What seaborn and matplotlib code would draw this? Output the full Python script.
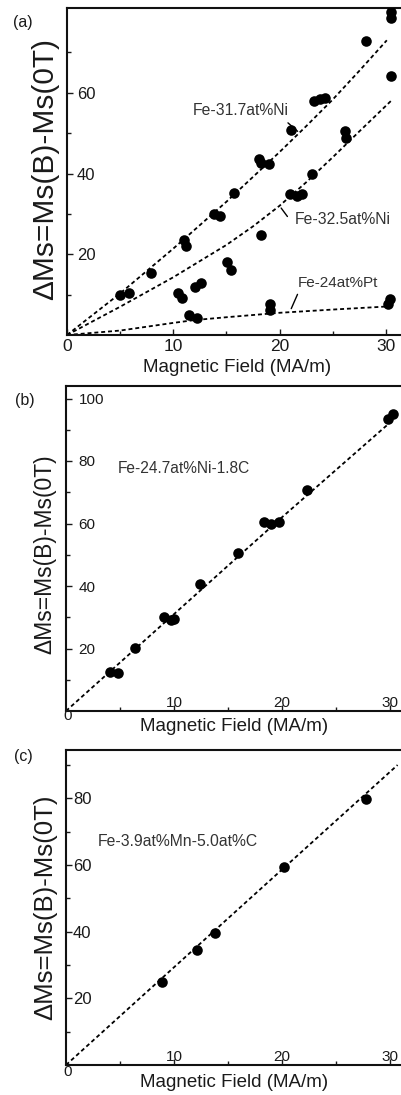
import matplotlib
matplotlib.use("Agg")
import matplotlib.pyplot as plt
import matplotlib.transforms as mtransforms
import seaborn as sns

# ---------------- data ----------------
# (a) Fe-31.7at%Ni
ni317_field = [5.0, 5.8, 7.9, 11.0, 11.2, 13.8, 14.4, 15.7, 18.1, 18.3, 19.0,
               21.1, 23.2, 23.8, 24.3, 28.1, 30.5, 30.5]
ni317_dms = [10.0, 10.3, 15.3, 23.5, 22.0, 30.0, 29.5, 35.1, 43.5, 42.5, 42.3,
             50.7, 58.0, 58.5, 58.8, 72.8, 78.5, 80.0]
fit317_field = [0, 5, 10, 15, 20, 22.5, 25, 27.5, 30.1]
fit317_dms = [0, 10.3, 21.4, 33.0, 45.3, 51.7, 58.3, 65.4, 73.0]

# (a) Fe-32.5at%Ni
ni325_field = [10.4, 10.8, 12.0, 12.6, 15.1, 15.4, 18.3, 21.0, 21.6, 22.1,
               23.1, 26.2, 26.3, 30.5]
ni325_dms = [10.5, 9.2, 12.0, 12.8, 18.0, 16.2, 24.8, 35.0, 34.5, 35.0,
             40.0, 50.5, 48.8, 64.1]
fit325_field = [0, 5, 10, 15, 17.5, 20, 22.5, 25, 27.5, 30.5]
fit325_dms = [0, 7.0, 14.3, 22.3, 26.9, 32.0, 37.8, 44.0, 50.4, 58.0]

# (a) Fe-24at%Pt
pt_field = [11.5, 12.2, 19.1, 19.1, 30.4, 30.2]
pt_dms = [5.0, 4.2, 7.8, 6.3, 8.8, 7.8]
fitpt_field = [0, 5, 10, 12, 15, 20, 25, 30.4]
fitpt_dms = [0, 1.1, 3.0, 3.7, 4.4, 5.5, 6.3, 7.1]

# (b) Fe-24.7at%Ni-1.8C
b_field = [4.1, 4.8, 6.4, 9.1, 9.7, 10.0, 12.4, 15.9, 18.3, 19.0, 19.7,
           22.3, 29.8, 30.3]
b_dms = [12.5, 12.3, 20.1, 30.2, 29.0, 29.4, 40.6, 50.5, 60.5, 60.0, 60.5,
         70.7, 93.5, 95.0]
fitb_field = [0, 10, 20, 29.9]
fitb_dms = [0, 31.0, 62.0, 92.0]

# (c) Fe-3.9at%Mn-5.0at%C
c_field = [8.9, 12.1, 13.8, 20.2, 27.8]
c_dms = [24.8, 34.6, 39.5, 59.3, 79.8]
fitc_field = [0, 30.7]
fitc_dms = [0, 90.0]

x_label = "Magnetic Field (MA/m)"
y_label = "ΔMs=Ms(B)-Ms(0T)"

# ---------------- style ----------------
sns.set_theme(style="ticks")
plt.rcParams["font.family"] = ["Liberation Sans", "DejaVu Sans"]
TXT = "#1a1a1a"
plt.rcParams["text.color"] = TXT
plt.rcParams["axes.labelcolor"] = TXT
plt.rcParams["xtick.color"] = TXT
plt.rcParams["ytick.color"] = TXT
plt.rcParams["axes.edgecolor"] = "#111111"

DASH = (0, (2.2, 1.6))

fig = plt.figure(figsize=(4.01, 10.95), dpi=100)
W, H = 401.0, 1095.0


def make_axes(left, top, bottom, width_px):
    return fig.add_axes([left / W, (H - bottom) / H, width_px / W, (bottom - top) / H])


def dots(ax, x, y):
    sns.scatterplot(x=x, y=y, ax=ax, color="black", s=58, linewidth=0, zorder=3)


def curve(ax, x, y):
    sns.lineplot(x=x, y=y, ax=ax, color="black", lw=1.3, linestyle=DASH,
                 sort=False, estimator=None, zorder=2)


def base_style(ax, xmax, ymax, yticks, yminor, ylabsize, ypad):
    ax.set_xlim(0, xmax)
    ax.set_ylim(0, ymax)
    for s in ax.spines.values():
        s.set_linewidth(1.5)
    ax.set_yticks(yticks)
    ax.set_yticks(yminor, minor=True)
    ax.set_xticks([5, 15, 25], minor=True)
    ax.tick_params(axis="both", which="major", direction="in", length=4, width=1.0)
    ax.tick_params(axis="both", which="minor", direction="in", length=3, width=1.0)
    ax.tick_params(axis="y", which="major", pad=ypad, labelsize=ylabsize)
    for t in ax.get_yticklabels():
        t.set_horizontalalignment("left")


# ---------------- panel (a) ----------------
ax = make_axes(67, 8, 335, 340)
curve(ax, fit317_field, fit317_dms)
curve(ax, fit325_field, fit325_dms)
curve(ax, fitpt_field, fitpt_dms)
dots(ax, ni317_field, ni317_dms)
dots(ax, ni325_field, ni325_dms)
dots(ax, pt_field, pt_dms)
base_style(ax, 32, 81, [20, 40, 60], [10, 30, 50, 70], 12, -7)
ax.set_xticks([0, 10, 20, 30])
ax.tick_params(axis="x", which="major", pad=3, labelsize=12.5)
ax.set_xlabel(x_label, fontsize=13.5, va="center")
ax.xaxis.set_label_coords(0.499, -0.098)
ax.set_ylabel(y_label, fontsize=21.5, va="center")
ax.yaxis.set_label_coords(-0.065, 0.508)

ax.text(11.85, 55.7, "Fe-31.7at%Ni", fontsize=11.3, va="center", ha="left", color="#333333")
ax.annotate("", xy=(21.9, 50.0), xytext=(20.6, 53.0),
            arrowprops=dict(arrowstyle="-", lw=1.0, color="black"))
ax.text(21.45, 28.5, "Fe-32.5at%Ni", fontsize=11.3, va="center", ha="left", color="#333333")
ax.annotate("", xy=(20.9, 28.8), xytext=(20.0, 32.0),
            arrowprops=dict(arrowstyle="-", lw=1.0, color="black"))
ax.text(21.7, 12.9, "Fe-24at%Pt", fontsize=11.0, va="center", ha="left", color="#333333")
ax.annotate("", xy=(21.0, 5.9), xytext=(21.8, 10.7),
            arrowprops=dict(arrowstyle="-", lw=1.0, color="black"))
fig.text(23 / W, (H - 23) / H, "(a)", fontsize=11.5, ha="center", va="center")


def bottom_inside(ax, xlab_y, zero_y, ylab_y, ylabsize):
    ax.set_xticks([10, 20, 30])
    ax.tick_params(axis="x", which="major", pad=-1, labelsize=11)
    for t in ax.get_xticklabels():
        t.set_verticalalignment("bottom")
    tr = mtransforms.blended_transform_factory(ax.transData, ax.transAxes)
    ax.text(0.15, zero_y, "0", transform=tr, fontsize=11, ha="center", va="center")
    ax.set_xlabel(x_label, fontsize=13.5, va="center")
    ax.xaxis.set_label_coords(0.485, xlab_y)
    ax.set_ylabel(y_label, fontsize=ylabsize, va="center")
    ax.yaxis.set_label_coords(-0.060, ylab_y)


# ---------------- panel (b) ----------------
ax = make_axes(66, 386, 711, 345.6)
curve(ax, fitb_field, fitb_dms)
dots(ax, b_field, b_dms)
base_style(ax, 32, 104, [20, 40, 60, 80, 100], [10, 30, 50, 70, 90], 11, -9)
bottom_inside(ax, -0.049, -0.016, 0.483, 16.5)
ax.text(4.8, 77.7, "Fe-24.7at%Ni-1.8C", fontsize=11.2, va="center", ha="left", color="#333333")
fig.text(25 / W, (H - 401) / H, "(b)", fontsize=11.5, ha="center", va="center")

# ---------------- panel (c) ----------------
ax = make_axes(66, 750, 1065, 345.6)
curve(ax, fitc_field, fitc_dms)
dots(ax, c_field, c_dms)
base_style(ax, 32, 94.5, [20, 40, 60, 80], [10, 30, 50, 70, 90], 12, -5)
bottom_inside(ax, -0.057, -0.022, 0.50, 18.5)
ax.text(2.96, 67.0, "Fe-3.9at%Mn-5.0at%C", fontsize=11.3, va="center", ha="left", color="#333333")
fig.text(23 / W, (H - 757) / H, "(c)", fontsize=11.5, ha="center", va="center")

fig.savefig("out.png", dpi=100, facecolor="white")
